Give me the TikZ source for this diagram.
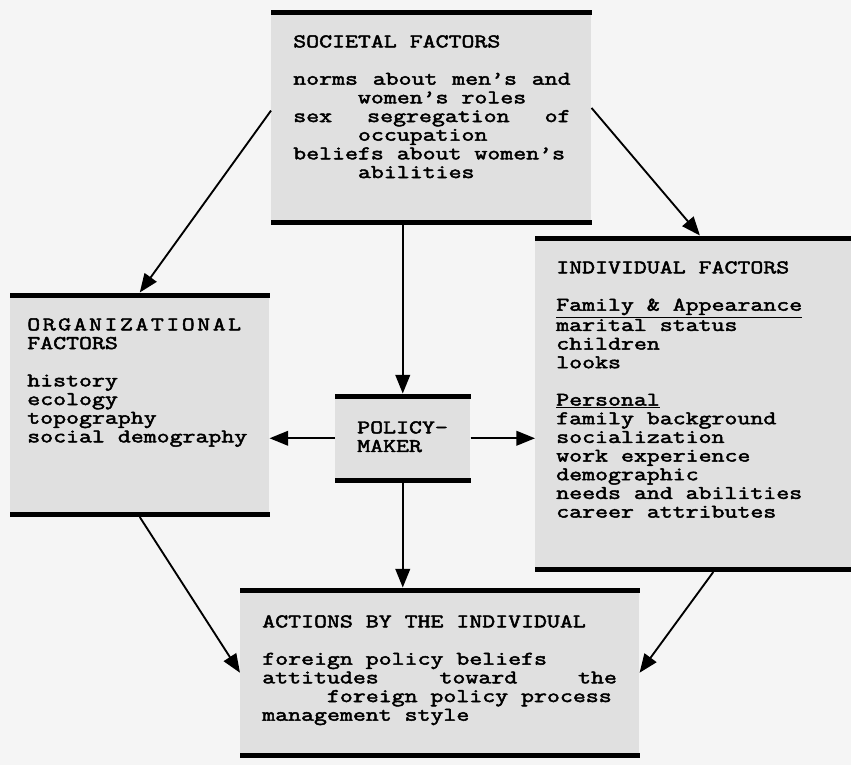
\documentclass[tikz,border=0pt]{standalone}
\usepackage{fontspec}
\setmonofont{Latin Modern Mono}[FakeStretch=1.3, FakeBold=2.5]
\usetikzlibrary{arrows.meta, positioning, calc}
\definecolor{pagebg}{gray}{0.96}
\definecolor{boxfill}{gray}{0.88}
\newlength\charwd
\newcommand\boxfontsel{\ttfamily\fontsize{14.5pt}{14pt}\selectfont
  \settowidth{\charwd}{0}\spaceskip=\charwd\relax\xspaceskip=\charwd\relax}

\tikzset{
  factorbox/.style={fill=boxfill, inner sep=0pt, anchor=north west},
  boxtext/.style={anchor=north west, inner sep=0pt, align=flush left, font=\boxfontsel},
  bar/.style={line width=3.75pt},
  flow/.style={-{Triangle[length=14pt, width=11pt]}, line width=1.4pt},
}

\begin{document}
\begin{tikzpicture}[x=0.75pt, y=-0.75pt]
    \fill[pagebg] (0,0) rectangle (851,765);
    \useasboundingbox (0,0) rectangle (851,765);

    % boxes
    \node[factorbox, minimum width=240pt, minimum height=161.25pt] (soc) at (271,9.5) {};
    \node[factorbox, minimum width=194.25pt, minimum height=168pt] (org) at (10,292.5) {};
    \node[factorbox, minimum width=237pt, minimum height=252pt] (ind) at (535,235.5) {};
    \node[factorbox, minimum width=101.25pt, minimum height=66.75pt] (pol) at (335,393.5) {};
    \node[factorbox, minimum width=299.25pt, minimum height=127.5pt] (act) at (240,587.5) {};

    % texts
    \node[boxtext, text width=208pt] (soctext) at (293,35) {SOCIETAL FACTORS\\[14pt]
        \makebox[\hsize][l]{norms\hfill about\hfill men’s\hfill and}\\
        \phantom{00000}women’s roles\\
        \makebox[\hsize][l]{sex\hfill segregation\hfill of}\\
        \phantom{00000}occupation\\
        beliefs about women’s\\
        \phantom{00000}abilities};
    \node[boxtext, text width=180pt] (orgtext) at (27,318) {{\addfontfeature{LetterSpace=13}ORGANIZATIONAL}\\
        FACTORS\\[14pt]
        history\\
        ecology\\
        topography\\
        social demography};
    \node[boxtext, text width=205pt] (indtext) at (556,261) {INDIVIDUAL FACTORS\\[14pt]
        \underline{Family \& Appearance}\\
        marital status\\
        children\\
        looks\\[14pt]
        \underline{Personal}\\
        family background\\
        socialization\\
        work experience\\
        demographic\\
        needs and abilities\\
        career attributes};
    \node[boxtext, text width=80pt] (poltext) at (357,421) {POLICY-\\MAKER};
    \node[boxtext, text width=266pt] (acttext) at (262,615) {ACTIONS BY THE INDIVIDUAL\\[14pt]
        foreign policy beliefs\\
        \makebox[\hsize][l]{attitudes\hfill toward\hfill the}\\
        \phantom{00000}foreign policy process\\
        management style};

    % thick bars
    \foreach \b in {soc,org,ind,pol,act}{
        \draw[bar] ([yshift=-1.875pt]\b.north west) -- ([yshift=-1.875pt]\b.north east);
        \draw[bar] ([yshift=1.875pt]\b.south west) -- ([yshift=1.875pt]\b.south east);
    }

    % arrows
    \draw[flow] ([yshift=5pt]soc.west) -- (org.north);
    \draw[flow] ([yshift=7pt]soc.east) -- ([xshift=5pt]ind.north);
    \draw[flow] (soc.south -| pol.north) -- (pol.north);
    \draw[flow] (pol.west) -- (pol.west -| org.east);
    \draw[flow] (pol.east) -- (pol.east -| ind.west);
    \draw[flow] (pol.south) -- (pol.south |- act.north);
    \draw[flow] (org.south) -- (act.west);
    \draw[flow] ([xshift=15pt]ind.south) -- (act.east);
\end{tikzpicture}
\end{document}
